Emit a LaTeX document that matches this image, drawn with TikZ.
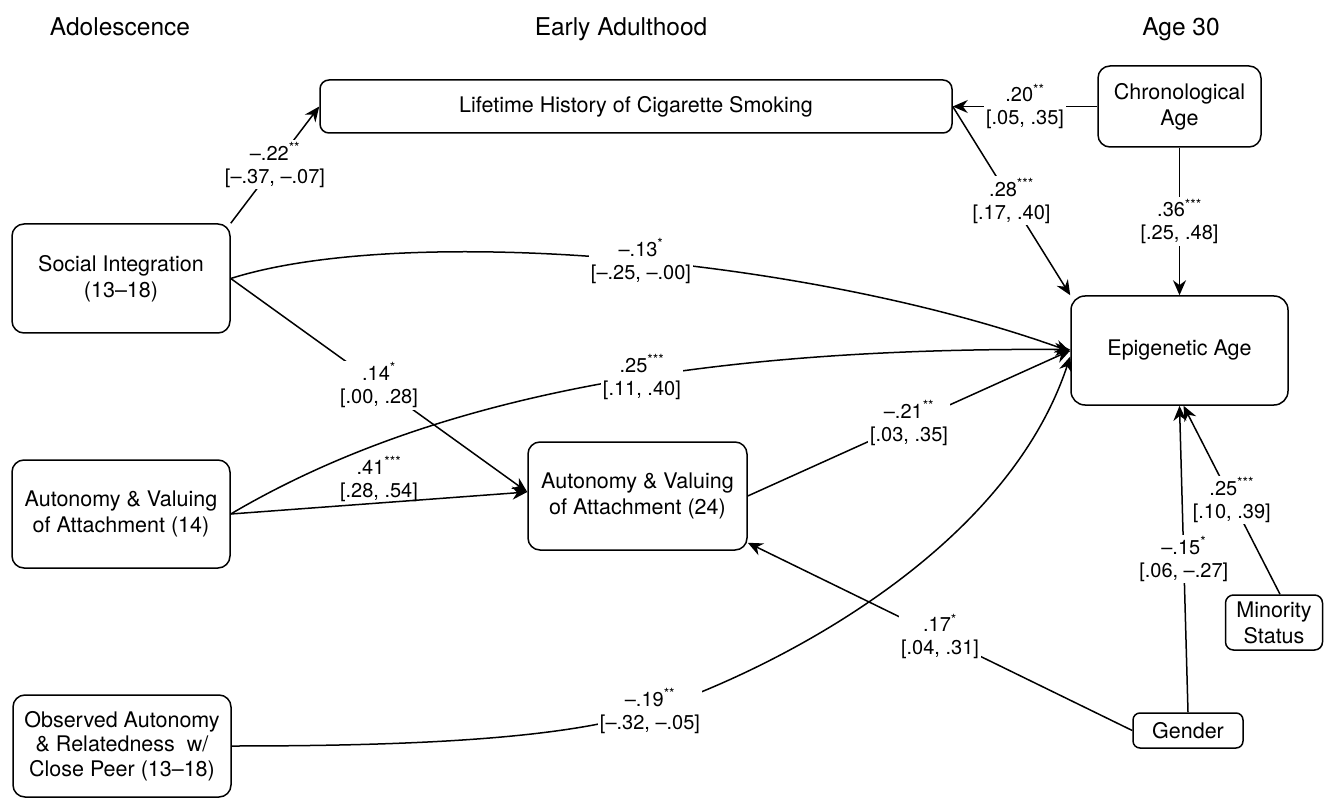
\documentclass[tikz,border=0pt]{standalone}
\usepackage{fontspec}
\setmainfont{TeX Gyre Heros}
\usetikzlibrary{arrows.meta}
\begin{document}
\begin{tikzpicture}[x=1pt,y=-1pt,
  box/.style={draw, line width=1.5pt, rounded corners=12pt, align=center, inner sep=0pt,
    font=\fontsize{21.5}{26}\selectfont},
  lbl/.style={fill=white, inner sep=2pt, align=center, font=\fontsize{20}{23}\selectfont},
  hdr/.style={anchor=base, font=\fontsize{24.5}{28}\selectfont},
  conn/.style={line width=1.5pt, -{Stealth[length=15pt,width=13pt]}}]
\fill[white] (0,0) rectangle (1325,799);
\useasboundingbox (0,0) rectangle (1325,799);

% headers
\node[hdr] (hA) at (120,36) {Adolescence};
\node[hdr] (hE) at (621,36) {Early Adulthood};
\node[hdr] (hG) at (1181,36) {Age 30};

% boxes
\node[box, minimum width=632pt, minimum height=53pt, rounded corners=9pt] (smoke) at (636,106.5) {Lifetime History of Cigarette Smoking};
\node[box, minimum width=163pt, minimum height=81pt] (chrono) at (1179.5,106.5) {Chronological\\Age};
\node[box, minimum width=218pt, minimum height=109pt] (socint) at (121,278.5) {Social Integration\\(13–18)};
\node[box, minimum width=218pt, minimum height=108pt] (aut14) at (121,514) {Autonomy \& Valuing\\of Attachment (14)};
\node[box, minimum width=218pt, minimum height=102pt, font=\fontsize{21.5}{24.5}\selectfont] (obs) at (122,746) {Observed Autonomy\\\& Relatedness\ \ w/\\Close Peer (13–18)};
\node[box, minimum width=219pt, minimum height=108pt] (aut24) at (637.5,496) {Autonomy \& Valuing\\of Attachment (24)};
\node[box, minimum width=217pt, minimum height=109pt, rounded corners=14pt] (epi) at (1179.5,350.5) {Epigenetic Age};
\node[box, minimum width=110pt, minimum height=35pt, rounded corners=7pt] (gender) at (1188,730.5) {Gender};
\node[box, minimum width=97pt, minimum height=55pt, rounded corners=8pt] (minor) at (1274,622.5) {Minority\\Status};

% connectors
\draw[conn] (socint.north east) -- node[lbl]{–.22\textsuperscript{**}\\{[}–.37, –.07{]}} (smoke.west);
\draw[conn] (chrono.west) -- node[lbl]{.20\textsuperscript{**}\\{[}.05, .35{]}} (smoke.east);
\draw[conn] (smoke.east) -- node[lbl]{.28\textsuperscript{***}\\{[}.17, .40{]}} (epi.north west);
\draw[conn] (chrono.south) -- node[lbl]{.36\textsuperscript{***}\\{[}.25, .48{]}} (epi.north);
\draw[conn] (socint.east) .. controls +(170,-54) and +(-270,-97) .. ([yshift=-1pt]epi.west)
  node[lbl,pos=0.53]{–.13\textsuperscript{*}\\{[}–.25, –.00{]}};
\draw[conn] (aut14.east) .. controls +(200,-118) and +(-370,-2) .. ([yshift=1pt]epi.west)
  node[lbl,pos=0.565]{.25\textsuperscript{***}\\{[}.11, .40{]}};
\draw[conn] (socint.east) -- node[lbl]{.14\textsuperscript{*}\\{[}.00, .28{]}} ([yshift=4pt]aut24.west);
\draw[conn] (aut14.east) -- node[lbl, fill=none, anchor=south, inner sep=1pt]{.41\textsuperscript{***}\\{[}.28, .54{]}} ([yshift=4pt]aut24.west);
\draw[conn] (aut24.east) -- node[lbl]{–.21\textsuperscript{**}\\{[}.03, .35{]}} (epi.west);
\coordinate (m10) at (650,711);
\draw[conn] (obs.east) .. controls +(169,0) and +(-87,29) .. (m10)
  .. controls +(110,-36) and +(-67,202) .. ([yshift=-6pt]epi.west);
\node[lbl] (l10) at (m10) {–.19\textsuperscript{**}\\{[}–.32, –.05{]}};
\draw[conn] (gender.west) -- node[lbl]{.17\textsuperscript{*}\\{[}.04, .31{]}} ([yshift=8pt]aut24.south east);
\draw[conn] (gender.north) -- node[lbl]{–.15\textsuperscript{*}\\{[}.06, –.27{]}} (epi.south);
\draw[conn] ([xshift=6pt]minor.north) -- node[lbl]{.25\textsuperscript{***}\\{[}.10, .39{]}} ([xshift=4pt]epi.south);
\end{tikzpicture}
\end{document}
